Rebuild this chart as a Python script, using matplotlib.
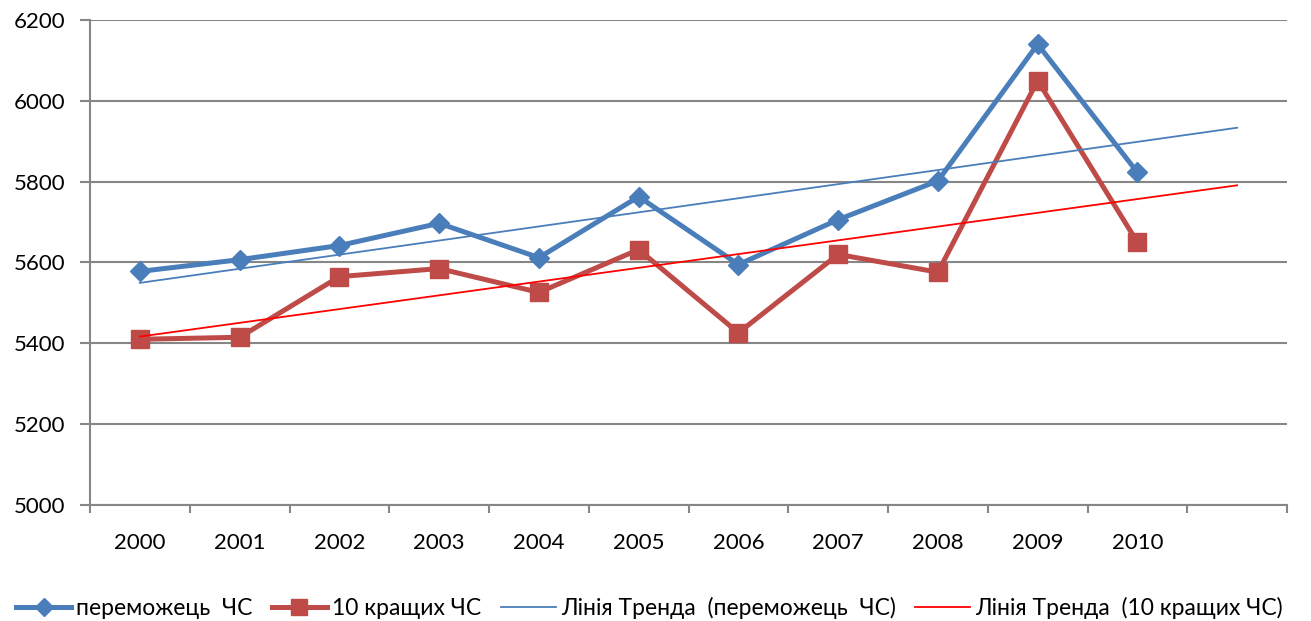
import numpy as np
import matplotlib.pyplot as plt
from matplotlib.ticker import FixedLocator, NullFormatter

plt.rcParams['font.family'] = ['Lato', 'DejaVu Sans']

years = ['2000', '2001', '2002', '2003', '2004', '2005',
         '2006', '2007', '2008', '2009', '2010']
winner = [5578, 5607, 5642, 5697, 5612, 5763, 5595, 5706, 5802, 6140, 5823]
top10 = [5410, 5415, 5565, 5585, 5526, 5632, 5426, 5620, 5576, 6050, 5650]

labels = ['переможець  ЧС', '10 кращих ЧС',
          'Лінія Тренда  (переможець  ЧС)', 'Лінія Тренда  (10 кращих ЧС)']

BLUE = '#4A7EBB'
RED = '#BE4B48'
GRID = '#868686'

fig = plt.figure(figsize=(13.11, 6.21), dpi=100)
ax = fig.add_axes([0.0687, 0.1868, 0.9130, 0.7810])

x = np.arange(len(years))
# linear trend, extended one period forward (like Excel forecast)
xt = np.arange(len(years) + 1)
pw = np.polyfit(x, winner, 1)
pt = np.polyfit(x, top10, 1)

ax.plot(x, winner, color=BLUE, lw=3.6, marker='D', ms=10.5, label=labels[0], zorder=4)
ax.plot(x, top10, color=RED, lw=3.6, marker='s', ms=13, label=labels[1], zorder=3)
ax.plot(xt, np.polyval(pw, xt), color=BLUE, lw=1.3, label=labels[2], zorder=5)
ax.plot(xt, np.polyval(pt, xt), color='#FF0000', lw=1.3, label=labels[3], zorder=5)

ax.set_ylim(5000, 6200)
ax.set_yticks(np.arange(5000, 6201, 200))
ax.set_xlim(-0.5, len(years) + 0.5)
ax.set_xticks(x)
ax.set_xticklabels(years)
ax.xaxis.set_minor_locator(FixedLocator(np.arange(-0.5, len(years) + 1, 1)))
ax.xaxis.set_minor_formatter(NullFormatter())
ax.tick_params(axis='x', which='major', length=0, pad=20, labelsize=16)
ax.tick_params(axis='x', which='minor', length=5.5, width=1.5, color=GRID, direction='out')
ax.tick_params(axis='y', length=7, width=1.5, color=GRID, pad=11, labelsize=16)

ax.grid(axis='y', color=GRID, lw=1.5)
ax.set_axisbelow(True)
for s in ['top', 'right']:
    ax.spines[s].set_visible(False)
for s in ['left', 'bottom']:
    ax.spines[s].set_color(GRID)
    ax.spines[s].set_linewidth(1.5)

fig.legend(loc='lower left', bbox_to_anchor=(0.0, -0.022), ncol=4, frameon=False,
           fontsize=16.5, handlelength=2.4, handletextpad=0.22, columnspacing=0.85,
           borderaxespad=0.3, markerscale=0.9)

fig.savefig('out.png', dpi=100)
